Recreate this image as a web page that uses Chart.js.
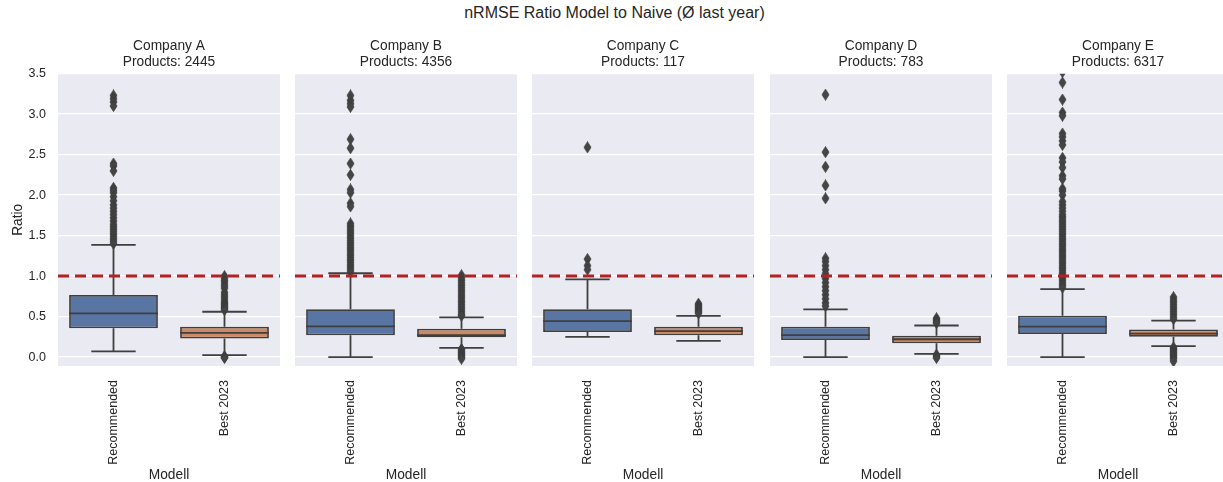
<!DOCTYPE html>
<html>
<head>
<meta charset="utf-8">
<script src="https://cdn.jsdelivr.net/npm/chart.js@4.4.1/dist/chart.umd.min.js"></script>
<style>
  body { margin: 0; width: 1223px; height: 482px; overflow: hidden; background: #fff; position: relative; font-family: "Liberation Sans", Arial, sans-serif; }
  #suptitle { position: absolute; top: 4px; left: 3px; width: 1223px; text-align: center; font-size: 16px; color: #262626; }
  canvas { position: absolute; top: 0; }
</style>
</head>
<body>
<div id="suptitle">nRMSE Ratio Model to Naive (Ø last year)</div>
<script>
const companies = ['Company A', 'Company B', 'Company C', 'Company D', 'Company E'];
const products = [2445, 4356, 117, 783, 6317];
const models = ['Recommended', 'Best 2023'];
const yTicks = [0, 0.5, 1, 1.5, 2, 2.5, 3, 3.5];

// Recommended: whisker low, Q1, median, Q3, whisker high
const recLow = [0.07, 0.0, 0.25, 0.0, 0.0];
const recQ1 = [0.355, 0.27, 0.31, 0.21, 0.285];
const recMed = [0.54, 0.38, 0.445, 0.27, 0.375];
const recQ3 = [0.766, 0.59, 0.59, 0.375, 0.51];
const recHigh = [1.385, 1.035, 0.96, 0.59, 0.84];

// Best 2023
const bestLow = [0.025, 0.115, 0.2, 0.04, 0.135];
const bestQ1 = [0.23, 0.245, 0.27, 0.17, 0.25];
const bestMed = [0.3, 0.27, 0.32, 0.22, 0.29];
const bestQ3 = [0.375, 0.35, 0.375, 0.265, 0.34];
const bestHigh = [0.56, 0.49, 0.51, 0.39, 0.45];

// outliers
const recOut = [
  [3.23, 3.19, 3.15, 3.10, 2.39, 2.36, 2.30, 2.09, 2.06, 2.03, 1.98, 1.93, 1.88, 1.84, 1.80, 1.76, 1.72, 1.68, 1.64, 1.61, 1.58, 1.55, 1.52, 1.49, 1.46, 1.43, 1.40],
  [3.23, 3.17, 3.13, 3.09, 2.69, 2.58, 2.39, 2.25, 2.07, 2.03, 1.90, 1.86, 1.65, 1.62, 1.59, 1.56, 1.53, 1.50, 1.47, 1.44, 1.41, 1.38, 1.35, 1.32, 1.29, 1.26, 1.23, 1.20, 1.17, 1.14, 1.11, 1.08, 1.05],
  [2.59, 1.21, 1.13, 1.08],
  [3.24, 2.53, 2.35, 2.12, 1.96, 1.22, 1.18, 1.13, 1.08, 1.03, 0.97, 0.92, 0.87, 0.82, 0.77, 0.72, 0.67, 0.63],
  [3.52, 3.39, 3.18, 3.02, 2.98, 2.76, 2.72, 2.67, 2.62, 2.46, 2.41, 2.34, 2.24, 2.20, 2.08, 2.05, 2.00, 1.92, 1.88, 1.84, 1.80, 1.76, 1.73, 1.70, 1.67, 1.64, 1.61, 1.58, 1.55, 1.52, 1.49, 1.46, 1.43, 1.40, 1.37, 1.34, 1.31, 1.28, 1.25, 1.22, 1.19, 1.16, 1.13, 1.10, 1.07, 1.04, 1.01, 0.98, 0.95, 0.92, 0.89, 0.86]
];
const bestOut = [
  [1.0, 0.97, 0.94, 0.91, 0.88, 0.85, 0.80, 0.77, 0.74, 0.71, 0.68, 0.66, 0.64, 0.62, 0.60, 0.58, 0.01, 0.0, -0.01],
  [1.01, 0.98, 0.95, 0.92, 0.89, 0.86, 0.83, 0.80, 0.77, 0.74, 0.71, 0.68, 0.65, 0.62, 0.59, 0.56, 0.53, 0.51, 0.10, 0.08, 0.06, 0.04, 0.02, 0.0, -0.02],
  [0.66, 0.64, 0.62, 0.60, 0.58, 0.56, 0.54],
  [0.48, 0.46, 0.44, 0.42, 0.03, 0.01, -0.01],
  [0.74, 0.71, 0.68, 0.65, 0.62, 0.59, 0.56, 0.53, 0.50, 0.47, 0.12, 0.10, 0.08, 0.06, 0.04, 0.02, 0.0, -0.02, -0.05]
];
const refLine = 1.0;

const panelLeft = [58, 295, 532, 770, 1007];
const panelW = 222;
const axisW = 58;
const dark = '#3f3f3f';
const fontFam = '"Liberation Sans", Arial, sans-serif';

// thin diamond marker like matplotlib 'd'
function makeDiamond() {
  const c = document.createElement('canvas');
  c.width = 9; c.height = 12;
  const g = c.getContext('2d');
  g.beginPath();
  g.moveTo(4.5, 0.5); g.lineTo(8, 6); g.lineTo(4.5, 11.5); g.lineTo(1, 6); g.closePath();
  g.fillStyle = '#454545';
  g.fill();
  g.strokeStyle = '#3a3a3a';
  g.lineWidth = 0.8;
  g.stroke();
  return c;
}
const diamond = makeDiamond();

const boxPlugin = {
  id: 'boxes',
  beforeDraw(chart) {
    const a = chart.chartArea, ctx = chart.ctx;
    ctx.save();
    ctx.fillStyle = '#eaeaf2';
    ctx.fillRect(a.left, a.top, a.right - a.left, a.bottom - a.top);
    ctx.restore();
  },
  afterDatasetsDraw(chart) {
    const i = chart.options.plugins.boxes.idx;
    const xs = chart.scales.x, ys = chart.scales.y, ctx = chart.ctx;
    const a = chart.chartArea;
    const meta = chart.getDatasetMeta(0);
    const stats = [
      [recLow[i], recQ1[i], recMed[i], recQ3[i], recHigh[i]],
      [bestLow[i], bestQ1[i], bestMed[i], bestQ3[i], bestHigh[i]]
    ];
    ctx.save();
    ctx.strokeStyle = dark;
    ctx.lineWidth = 1.8;
    stats.forEach((s, k) => {
      const cx = xs.getPixelForValue(k);
      const bw = meta.data[k].width;
      const y = v => ys.getPixelForValue(v);
      ctx.beginPath();
      ctx.moveTo(cx, y(s[0])); ctx.lineTo(cx, y(s[1]));
      ctx.moveTo(cx, y(s[3])); ctx.lineTo(cx, y(s[4]));
      ctx.moveTo(cx - bw / 4, y(s[0])); ctx.lineTo(cx + bw / 4, y(s[0]));
      ctx.moveTo(cx - bw / 4, y(s[4])); ctx.lineTo(cx + bw / 4, y(s[4]));
      ctx.moveTo(cx - bw / 2, y(s[2])); ctx.lineTo(cx + bw / 2, y(s[2]));
      ctx.stroke();
    });
    // reference line
    ctx.beginPath();
    ctx.rect(a.left, a.top, a.right - a.left, a.bottom - a.top);
    ctx.clip();
    ctx.strokeStyle = '#b22222';
    ctx.lineWidth = 3;
    ctx.setLineDash([11, 6]);
    ctx.beginPath();
    ctx.moveTo(a.left, ys.getPixelForValue(refLine));
    ctx.lineTo(a.right, ys.getPixelForValue(refLine));
    ctx.stroke();
    ctx.restore();
  }
};

function makeConfig(i) {
  const first = i === 0;
  const outPts = [];
  recOut[i].forEach(v => outPts.push({ x: models[0], y: v }));
  bestOut[i].forEach(v => outPts.push({ x: models[1], y: v }));
  return {
    type: 'bar',
    data: {
      labels: models,
      datasets: [{
        data: [[recQ1[i], recQ3[i]], [bestQ1[i], bestQ3[i]]],
        backgroundColor: ['#5975a4', '#cc8963'],
        borderColor: dark,
        borderWidth: 1.8,
        borderSkipped: false,
        categoryPercentage: 0.8,
        barPercentage: 1.0,
        order: 2
      }, {
        type: 'scatter',
        data: outPts,
        pointStyle: diamond,
        pointRadius: 5,
        order: 1
      }]
    },
    options: {
      responsive: false,
      animation: false,
      devicePixelRatio: 1,
      layout: { padding: 0 },
      plugins: {
        legend: { display: false },
        tooltip: { enabled: false },
        boxes: { idx: i },
        title: {
          display: true,
          fullSize: false,
          text: [companies[i], 'Products: ' + products[i]],
          color: '#262626',
          font: { family: fontFam, size: 13.75, weight: 'normal', lineHeight: 1.15 },
          padding: { top: 38, bottom: 4 }
        }
      },
      scales: {
        x: {
          type: 'category',
          grid: { display: false },
          border: { display: false },
          ticks: { color: '#262626', font: { family: fontFam, size: 12.5 }, minRotation: 90, maxRotation: 90, padding: 6 },
          title: { display: true, text: 'Modell', color: '#262626', font: { family: fontFam, size: 13.75 }, padding: { top: 0, bottom: -1 } },
          afterFit: s => { s.height = 116; }
        },
        y: {
          min: -0.11,
          max: 3.5,
          grid: { color: '#ffffff', lineWidth: 1.3, drawTicks: false },
          border: { display: false },
          afterBuildTicks: s => { s.ticks = yTicks.map(v => ({ value: v })); },
          ticks: { display: first, color: '#262626', font: { family: fontFam, size: 12.5 }, padding: 12, callback: v => v.toFixed(1) },
          title: { display: first, text: 'Ratio', color: '#262626', font: { family: fontFam, size: 13.75 }, padding: { top: 10, bottom: 4 } },
          afterFit: s => { s.width = first ? axisW : 0; }
        }
      }
    },
    plugins: [boxPlugin]
  };
}

companies.forEach((name, i) => {
  const first = i === 0;
  const w = panelW + (first ? axisW : 0);

  // first pass: measure how much side padding the rotated labels add
  const probe = document.createElement('canvas');
  probe.width = w; probe.height = 482;
  probe.style.visibility = 'hidden';
  document.body.appendChild(probe);
  const test = new Chart(probe, makeConfig(i));
  const a = test.chartArea;
  const left = a.left, rightPad = w - a.right;
  test.destroy();
  probe.remove();

  const cv = document.createElement('canvas');
  cv.width = Math.round(left + panelW + rightPad);
  cv.height = 482;
  cv.style.left = Math.round(panelLeft[i] - left) + 'px';
  document.body.appendChild(cv);
  new Chart(cv, makeConfig(i));
});
</script>
</body>
</html>
